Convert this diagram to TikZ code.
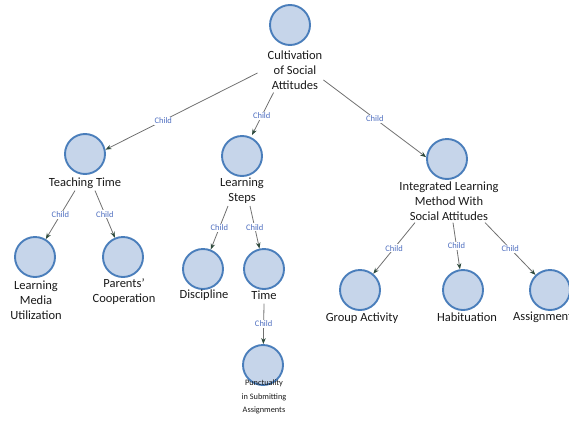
\documentclass[tikz,border=0pt]{standalone}
\usepackage{fontspec}
\setmainfont{Carlito}
\usetikzlibrary{arrows.meta}
\definecolor{cfill}{HTML}{C6D5EA}
\definecolor{cdraw}{HTML}{4A7EBB}
\definecolor{lcol}{HTML}{707070}
\definecolor{acol}{HTML}{2E4A3C}
\definecolor{labc}{HTML}{4F6FC0}
\begin{document}
\begin{tikzpicture}[x=1pt,y=-1pt,
 concept/.style={circle,draw=cdraw,fill=cfill,line width=1.9pt,minimum size=40pt,inner sep=0pt},
 ctext/.style={font=\fontsize{12.5}{15}\selectfont,align=center,inner sep=0pt,text=black!90},
 smalltext/.style={font=\fontsize{8.3}{13.5}\selectfont,align=center,inner sep=0pt,text=black!90},
 rel/.style={draw=lcol,line width=0.8pt,-{Stealth[length=6pt,width=4.5pt,color=acol]}},
 lab/.style={fill=white,text=labc,font=\fontsize{8.5}{9}\selectfont,inner sep=1pt}]
\useasboundingbox (0,0) rectangle (569,423);
\clip (0,0) rectangle (569,423);
% concepts
\node[concept] (c-root) at (290,25) {};
\node[ctext] (t-root) at (295,70) {Cultivation\\of Social\\Attitudes};
\node[concept] (c-teach) at (85,154) {};
\node[ctext] (t-teach) at (85,183) {Teaching Time};
\node[concept] (c-steps) at (242,156) {};
\node[ctext] (t-steps) at (242,191) {Learning\\Steps};
\node[concept] (c-integ) at (447,159) {};
\node[ctext] (t-integ) at (449,201) {Integrated Learning\\Method With\\Social Attitudes};
\node[concept] (c-lmu) at (35,257) {};
\node[ctext] (t-lmu) at (36,300) {Learning\\Media\\Utilization};
\node[concept] (c-par) at (123,257) {};
\node[ctext] (t-par) at (124,292) {Parents'\\Cooperation};
\node[concept] (c-disc) at (203,269) {};
\node[ctext] (t-disc) at (204,295) {Discipline};
\node[concept] (c-time) at (264,269) {};
\node[ctext] (t-time) at (264,295) {Time};
\node[concept] (c-punc) at (263,365) {};
\node[smalltext] (t-punc) at (264,397) {Punctuality\\in Submitting\\Assignments};
\node[concept] (c-group) at (360,290) {};
\node[ctext] (t-group) at (362,318) {Group Activity};
\node[concept] (c-habit) at (463,290) {};
\node[ctext] (t-habit) at (467,317) {Habituation};
\node[concept] (c-assign) at (550,290) {};
\node[ctext,anchor=west] (t-assign) at (513,317) {Assignment};
% connectors
\draw[rel] ([xshift=-10pt,yshift=-3pt]t-root.west) -- node[lab,pos=0.62]{Child} (c-teach.12);
\draw[rel] ([xshift=6pt,yshift=-3pt]t-root.south west) -- node[lab,pos=0.55]{Child} ([xshift=10pt]c-steps.north);
\draw[rel] ([xshift=1pt,yshift=-10pt]t-root.east) -- node[lab,pos=0.5]{Child} (c-integ.175);
\draw[rel] ([xshift=-10pt,yshift=-2pt]t-teach.south) -- node[lab]{Child} (c-lmu);
\draw[rel] ([xshift=10pt,yshift=-2pt]t-teach.south) -- node[lab]{Child} (c-par);
\draw[rel] ([xshift=-14pt,yshift=-2pt]t-steps.south) -- node[lab]{Child} (c-disc);
\draw[rel] ([xshift=8pt,yshift=-2pt]t-steps.south) -- node[lab]{Child} (c-time);
\draw[rel] ([xshift=0pt,yshift=-4pt]t-time.south) -- node[lab]{Child} (c-punc);
\draw[rel] ([xshift=-34pt,yshift=-2pt]t-integ.south) -- node[lab]{Child} (c-group);
\draw[rel] ([xshift=4pt,yshift=-2pt]t-integ.south) -- node[lab]{Child} (c-habit);
\draw[rel] ([xshift=36pt,yshift=-2pt]t-integ.south) -- node[lab]{Child} (c-assign);
\end{tikzpicture}
\end{document}
